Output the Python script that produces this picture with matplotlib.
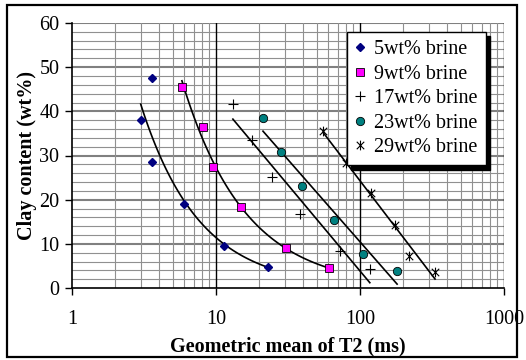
import numpy as np
import matplotlib.pyplot as plt
from matplotlib.path import Path
from matplotlib.patches import Rectangle

plt.rcParams['font.family'] = 'Liberation Serif'

# geometric mean T2 (ms) and clay content (wt%) for each brine
t2_5 = [3.6, 3.0, 3.6, 6.0, 11.4, 23.0]
clay_5 = [47.5, 38.0, 28.5, 19.0, 9.5, 4.8]
t2_9 = [5.8, 8.1, 9.5, 14.9, 30.6, 60.9]
clay_9 = [45.5, 36.4, 27.4, 18.3, 9.0, 4.5]
t2_17 = [13.1, 17.8, 24.5, 38.3, 72.6, 117.0]
clay_17 = [41.7, 33.4, 25.1, 16.7, 8.3, 4.3]
t2_23 = [21.2, 28.3, 39.6, 66.0, 105.0, 181.0]
clay_23 = [38.5, 30.8, 23.1, 15.4, 7.8, 3.9]
t2_29 = [55.3, 80.0, 119.0, 175.0, 219.0, 332.0]
clay_29 = [35.6, 28.3, 21.4, 14.3, 7.2, 3.6]

labels = ['5wt% brine', '9wt% brine', '17wt% brine', '23wt% brine', '29wt% brine']

# asterisk marker like excel's star
star = Path([(-1, -1), (1, 1), (-1, 1), (1, -1), (0, -1.3), (0, 1.3)],
            [Path.MOVETO, Path.LINETO, Path.MOVETO, Path.LINETO, Path.MOVETO, Path.LINETO])

fig = plt.figure(figsize=(5.26, 3.6), dpi=100)
ax = fig.add_axes([72/526, 72/360, 432/526, 265/360])

def power_fit(x, y):
    x = np.array(x); y = np.array(y)
    b, lna = np.polyfit(np.log(x), np.log(y), 1)
    xs = np.logspace(np.log10(x.min()), np.log10(x.max()), 100)
    ax.plot(xs, np.exp(lna) * xs**b, color='black', lw=1.2, zorder=2)

def log_fit(x, y):
    x = np.array(x); y = np.array(y)
    a, c = np.polyfit(np.log(x), y, 1)
    xs = np.array([x.min(), x.max()])
    ax.plot(xs, a * np.log(xs) + c, color='black', lw=1.2, zorder=2)

power_fit(t2_5, clay_5)
power_fit(t2_9, clay_9)
log_fit(t2_17, clay_17)
log_fit(t2_23, clay_23)
log_fit(t2_29, clay_29)

ax.plot(t2_5, clay_5, 'D', ms=4.5, color='#000080', mec='#000080', ls='none', label=labels[0], zorder=3)
ax.plot(t2_9, clay_9, 's', ms=5.5, color='#FF00FF', mec='black', mew=0.6, ls='none', label=labels[1], zorder=3)
ax.plot(t2_17, clay_17, '+', ms=6.5, color='black', mew=0.8, ls='none', label=labels[2], zorder=3)
ax.plot(t2_23, clay_23, 'o', ms=6, color='#008080', mec='black', mew=0.6, ls='none', label=labels[3], zorder=3)
ax.plot(t2_29, clay_29, marker=star, ms=7, color='black', mew=0.8, ls='none', label=labels[4], zorder=3)

ax.set_xscale('log')
ax.set_xlim(1, 1000)
ax.set_ylim(0, 60)
ax.set_yticks(range(0, 61, 10))
ax.set_yticks(range(0, 61, 2), minor=True)
ax.set_xticks([1, 10, 100, 1000])
ax.set_xticklabels(['1', '10', '100', '1000'])

# grid
for v in range(2, 61, 2):
    if v % 10:
        ax.axhline(v, color='#909090', lw=0.8, zorder=0)
    else:
        ax.axhline(v, color='#808080', lw=1.5, zorder=0)
for dec in [1, 10, 100]:
    for m in range(2, 10):
        ax.axvline(dec * m, color='#909090', lw=0.8, zorder=0)
for v in [10, 100, 1000]:
    ax.axvline(v, color='black', lw=1.0, zorder=1)

ax.tick_params(axis='both', which='major', direction='out', length=5, width=1,
               labelsize=14.5, color='black')
ax.tick_params(axis='x', which='major', pad=11)
ax.tick_params(axis='y', which='major', pad=4)
ax.tick_params(which='minor', length=0)
for s in ['top', 'right']:
    ax.spines[s].set_visible(False)
ax.spines['left'].set_linewidth(1.2)
ax.spines['bottom'].set_linewidth(1.2)

ax.set_xlabel('Geometric mean of T2 (ms)', fontsize=14.5, fontweight='bold', labelpad=5)
ax.set_ylabel('Clay content (wt%)', fontsize=14.5, fontweight='bold', labelpad=2)

leg = ax.legend(loc='upper left', bbox_to_anchor=(0.637, 0.966), fontsize=14.5,
                frameon=True, fancybox=False, edgecolor='black',
                shadow={'color': 'black', 'alpha': 1, 'ox': 3, 'oy': -3}, handlelength=0.5,
                handletextpad=0.45, borderpad=0.4, labelspacing=0.27, framealpha=1,
                borderaxespad=0)
leg.get_frame().set_linewidth(1.0)

fig.patches.append(Rectangle((7/526, 3/360), 510/526, 352/360, transform=fig.transFigure,
                             fill=False, edgecolor='black', lw=1.6))

fig.savefig('out.png', dpi=100)
